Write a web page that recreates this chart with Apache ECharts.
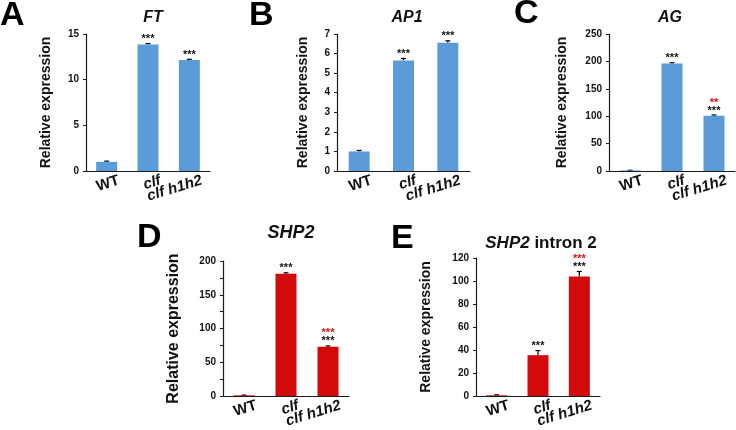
<!DOCTYPE html>
<html>
<head>
<meta charset="utf-8">
<script src="https://cdn.jsdelivr.net/npm/echarts@6/dist/echarts.min.js"></script>
<style>
  html, body { margin: 0; padding: 0; background: #fff; }
  #chart { width: 736px; height: 430px; }
</style>
</head>
<body>
<div id="chart"></div>
<script>
const categories = ["WT", "clf", "clf h1h2"];

// A - FT
const ftValues = [1.0, 13.85, 12.15];
const ftErrors = [0.08, 0.1, 0.08];
const ftStars = ["", "***", "***"];
const ftRedStars = ["", "", ""];
// B - AP1
const ap1Values = [1.0, 5.65, 6.55];
const ap1Errors = [0.05, 0.1, 0.1];
const ap1Stars = ["", "***", "***"];
const ap1RedStars = ["", "", ""];
// C - AG
const agValues = [1.0, 196, 101];
const agErrors = [0.3, 1.5, 1.2];
const agStars = ["", "***", "***"];
const agRedStars = ["", "", "**"];
// D - SHP2
const shp2Values = [1.0, 181, 73];
const shp2Errors = [0.3, 1.5, 1.2];
const shp2Stars = ["", "***", "***"];
const shp2RedStars = ["", "", "***"];
// E - SHP2 intron 2
const intronValues = [0.6, 35.5, 104];
const intronErrors = [0.4, 4.0, 4.3];
const intronStars = ["", "***", "***"];
const intronRedStars = ["", "", "***"];

const yMax = [15, 7, 250, 200, 120];
const yInterval = [5, 1, 50, 50, 20];

const FONT = "Liberation Sans, Arial, sans-serif";
const BLUE = "#5b9bd8";
const RED = "#d20a0a";

const panels = [
  { values: ftValues, errors: ftErrors, stars: ftStars, red: ftRedStars, color: BLUE,
    grid: { left: 86, top: 34, width: 124, height: 137 }, nameGap: 33, nameSize: 14, minor: false },
  { values: ap1Values, errors: ap1Errors, stars: ap1Stars, red: ap1RedStars, color: BLUE,
    grid: { left: 337, top: 34, width: 133, height: 137 }, nameGap: 27, nameSize: 14, minor: false },
  { values: agValues, errors: agErrors, stars: agStars, red: agRedStars, color: BLUE,
    grid: { left: 609, top: 34, width: 126, height: 137 }, nameGap: 40, nameSize: 14, minor: false },
  { values: shp2Values, errors: shp2Errors, stars: shp2Stars, red: shp2RedStars, color: RED,
    grid: { left: 223, top: 261, width: 126, height: 135 }, nameGap: 41, nameSize: 16, minor: true },
  { values: intronValues, errors: intronErrors, stars: intronStars, red: intronRedStars, color: RED,
    grid: { left: 476, top: 258, width: 124, height: 138 }, nameGap: 43, nameSize: 14, minor: false }
];

const chart = echarts.init(document.getElementById("chart"));

const grids = [], xAxes = [], yAxes = [], series = [];
panels.forEach((p, i) => {
  grids.push(p.grid);
  xAxes.push({
    type: "category",
    gridIndex: i,
    data: categories,
    axisLine: { lineStyle: { color: "#1a1a1a", width: 1.2 } },
    axisTick: { show: false },
    axisLabel: {
      rotate: 17,
      margin: 13,
      interval: 0,
      padding: [0, -13, 0, 0],
      formatter: (v) => (v === "WT" ? "{n|" + v + "}" : "{i|" + v + "}"),
      rich: {
        n: { fontFamily: FONT, fontWeight: "bold", fontSize: 15, color: "#111" },
        i: { fontFamily: FONT, fontWeight: "bold", fontStyle: "italic", fontSize: 15, color: "#111" }
      }
    }
  });
  yAxes.push({
    type: "value",
    gridIndex: i,
    min: 0,
    max: yMax[i],
    interval: yInterval[i],
    name: "Relative expression",
    nameLocation: "middle",
    nameGap: p.nameGap,
    nameTextStyle: { fontFamily: FONT, fontWeight: "bold", fontSize: p.nameSize, color: "#111" },
    axisLine: { show: true, lineStyle: { color: "#1a1a1a", width: 1.2 } },
    axisTick: { show: true, length: 3, lineStyle: { color: "#1a1a1a" } },
    minorTick: { show: p.minor, splitNumber: 2, length: 3, lineStyle: { color: "#1a1a1a" } },
    splitLine: { show: false },
    axisLabel: { fontFamily: FONT, fontWeight: "bold", fontSize: 10, color: "#111", margin: 7 }
  });
  series.push({
    type: "bar",
    xAxisIndex: i,
    yAxisIndex: i,
    barWidth: 21,
    data: p.values,
    itemStyle: { color: p.color },
    silent: true
  });
  series.push({
    type: "custom",
    xAxisIndex: i,
    yAxisIndex: i,
    silent: true,
    data: p.values.map((v, k) => [k, v, p.errors[k]]),
    renderItem: (params, api) => {
      const k = api.value(0);
      const base = api.coord([k, api.value(1)]);
      const top = api.coord([k, api.value(1) + api.value(2)]);
      const children = [
        { type: "line", shape: { x1: base[0], y1: base[1], x2: top[0], y2: top[1] },
          style: { stroke: "#000", lineWidth: 1.2 } },
        { type: "line", shape: { x1: top[0] - 2.5, y1: top[1], x2: top[0] + 2.5, y2: top[1] },
          style: { stroke: "#000", lineWidth: 1.2 } }
      ];
      const s = p.stars[k], r = p.red[k];
      if (s) {
        children.push({ type: "text", style: { text: s, x: top[0], y: top[1] + 1, align: "center",
          verticalAlign: "bottom", font: "bold 11px " + FONT, fill: "#111" } });
      }
      if (r) {
        children.push({ type: "text", style: { text: r, x: top[0], y: top[1] - 7, align: "center",
          verticalAlign: "bottom", font: "bold 11px " + FONT, fill: "#e01010" } });
      }
      return { type: "group", children: children };
    }
  });
});

const titles = [
  { x: 153, y: 18, parts: [["FT", true]], size: 16 },
  { x: 407, y: 18, parts: [["AP1", true]], size: 16 },
  { x: 670, y: 18, parts: [["AG", true]], size: 16 },
  { x: 291, y: 233, parts: [["SHP2", true]], size: 18 },
  { x: 541, y: 243, parts: [["SHP2", true], [" intron 2", false]], size: 17 }
];
const letters = [
  { t: "A", x: 0, y: 16 }, { t: "B", x: 249, y: 16 }, { t: "C", x: 514, y: 14 },
  { t: "D", x: 137, y: 238 }, { t: "E", x: 391, y: 239 }
];

const graphics = [];
titles.forEach((t) => {
  graphics.push({
    type: "text",
    x: t.x,
    y: t.y,
    style: {
      text: t.parts.map((pt) => "{" + (pt[1] ? "i" : "n") + "|" + pt[0] + "}").join(""),
      align: "center",
      verticalAlign: "middle",
      rich: {
        i: { font: "italic bold " + t.size + "px " + FONT, fill: "#111" },
        n: { font: "bold " + t.size + "px " + FONT, fill: "#111" }
      }
    }
  });
});
letters.forEach((l) => {
  graphics.push({
    type: "text",
    x: l.x,
    y: l.y,
    style: { text: l.t, align: "left", verticalAlign: "middle", font: "bold 34px " + FONT, fill: "#000" }
  });
});

chart.setOption({
  animation: false,
  backgroundColor: "#fff",
  grid: grids,
  xAxis: xAxes,
  yAxis: yAxes,
  series: series,
  graphic: graphics
});
</script>
</body>
</html>
